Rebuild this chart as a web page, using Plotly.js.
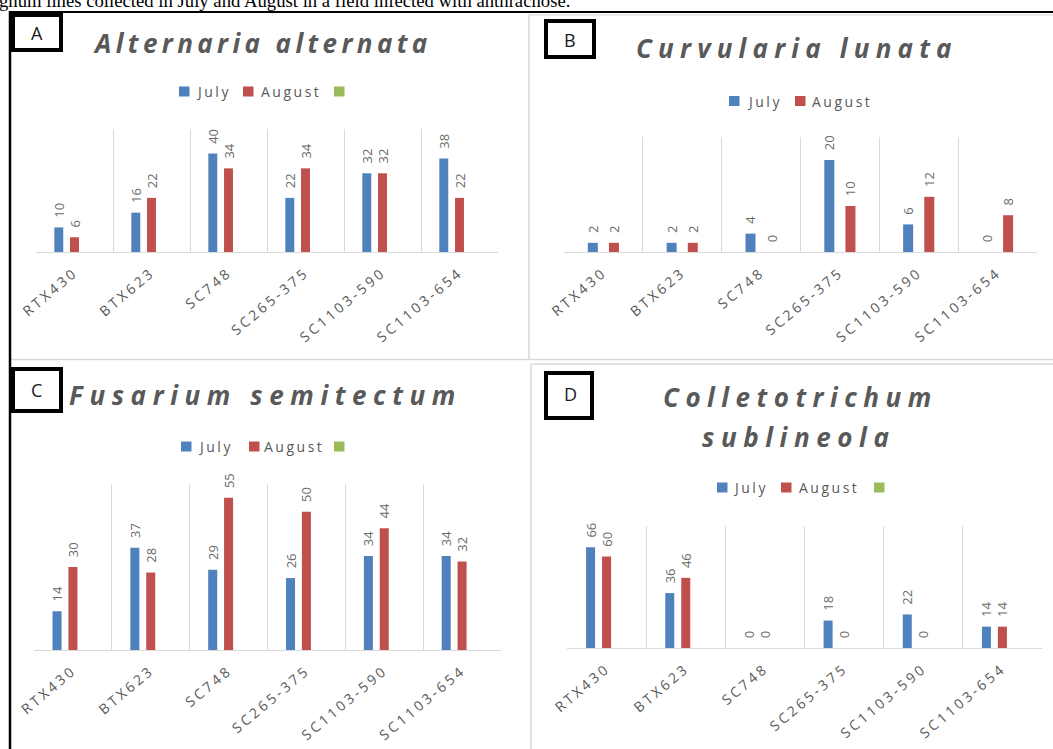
<!DOCTYPE html>
<html><head><meta charset="utf-8">
<script src="https://cdn.plot.ly/plotly-3.0.1.min.js"></script>
<style>
html,body{margin:0;padding:0;background:#fff;}
#chart{width:1053px;height:749px;}
.xtick text,.x2tick text,.x3tick text,.x4tick text{letter-spacing:3px;}
</style></head><body><div id="chart"></div>
<script>
// ---------- data ----------
const categories = ['RTX430','BTX623','SC748','SC265-375','SC1103-590','SC1103-654'];
const seriesNames = ['July','August'];
const alternariaJuly   = [10,16,40,22,32,38];
const alternariaAugust = [6,22,34,34,32,22];
const curvulariaJuly   = [2,2,4,20,6,0];
const curvulariaAugust = [2,2,0,10,12,8];
const fusariumJuly     = [14,37,29,26,34,34];
const fusariumAugust   = [30,28,55,50,44,32];
const colletoJuly      = [66,36,0,18,22,14];
const colletoAugust    = [60,46,0,0,0,14];
const panelTitles = ['Alternaria alternata','Curvularia lunata','Fusarium semitectum','Colletotrichum','sublineola'];
const panelLetters = ['A','B','C','D'];
const captionText = 'ghum lines collected in July and August in a field infected with anthracnose.';

// ---------- helpers ----------
const W = 1053, H = 749;
const X = p => p / W;
const Y = p => 1 - p / H;
const BLUE = '#4F81BD', RED = '#C0504D', GREEN = '#9BBB59', GRAY = '#595959';
const FONT = 'Open Sans, sans-serif';

const panels = [
  {s:'',  july:alternariaJuly, aug:alternariaAugust, xd:[36,498],  yd:[129,252], top:50, w:0.116, oj:-0.262, oa:-0.058,
   legend:{y:91.5, items:[[179,'July',194],[243,'August',259],[334,null]]}},
  {s:'2', july:curvulariaJuly, aug:curvulariaAugust, xd:[564,1037], yd:[137,252], top:25, w:0.127, oj:-0.198, oa:0.070,
   legend:{y:101, items:[[729,'July',745],[795,'August',810]]}},
  {s:'3', july:fusariumJuly, aug:fusariumAugust, xd:[34,501], yd:[484,650], top:60, w:0.116, oj:-0.262, oa:-0.058,
   legend:{y:446.5, items:[[181,'July',196],[249,'August',262],[334,null]]}},
  {s:'4', july:colletoJuly, aug:colletoAugust, xd:[567,1042], yd:[526,648], top:80, w:0.114, oj:-0.259, oa:-0.057,
   legend:{y:487.5, items:[[717,'July',731],[781,'August',797],[874,null]]}}
];

const data = [];
const layout = {
  width: W, height: H, margin:{l:0,r:0,t:0,b:0}, paper_bgcolor:'#fff', plot_bgcolor:'rgba(0,0,0,0)',
  showlegend:false, barmode:'group', font:{family:FONT, color:GRAY},
  shapes:[], annotations:[]
};

panels.forEach((p, i) => {
  [[p.july, BLUE, p.oj, seriesNames[0]], [p.aug, RED, p.oa, seriesNames[1]]].forEach(([vals, col, off, nm]) => {
    data.push({
      type:'bar', name:nm, x:categories, y:vals, xaxis:'x'+p.s, yaxis:'y'+p.s,
      width:p.w, offset:off, marker:{color:col, line:{width:0}},
      texttemplate:'\u00a0\u00a0%{y}', textposition:'outside', textangle:-90,
      constraintext:'none', cliponaxis:false,
      textfont:{family:FONT, size:13, color:'#6a6a6a'}, hoverinfo:'skip'
    });
  });
  layout['xaxis'+p.s] = {
    domain:[X(p.xd[0]), X(p.xd[1])], anchor:'y'+p.s, type:'category', range:[-0.5,5.5],
    tickson:'boundaries', showgrid:true, gridcolor:'#d9d9d9', gridwidth:1,
    showline:true, linecolor:'#d9d9d9', linewidth:1, ticks:'', tickangle:-40, ticklabelstandoff:6,
    tickfont:{family:FONT, size:14, color:GRAY}, automargin:false, fixedrange:true
  };
  layout['yaxis'+p.s] = {
    domain:[Y(p.yd[1]), Y(p.yd[0])], anchor:'x'+p.s, range:[0,p.top],
    showgrid:false, zeroline:false, showticklabels:false, showline:false, ticks:'',
    automargin:false, fixedrange:true
  };
  // legend
  const colors = [BLUE, RED, GREEN];
  p.legend.items.forEach((it, k) => {
    layout.shapes.push({type:'rect', xref:'paper', yref:'paper', x0:X(it[0]), x1:X(it[0]+10.5),
      y0:Y(p.legend.y-5), y1:Y(p.legend.y+5), fillcolor:colors[k], line:{width:0}});
    if (it[1]) layout.annotations.push({xref:'paper', yref:'paper', x:X(it[2]), y:Y(p.legend.y),
      xanchor:'left', yanchor:'middle', showarrow:false,
      text:'<span style="letter-spacing:2.5px">'+it[1]+'</span>', font:{family:FONT, size:14, color:GRAY}});
  });
});

// titles: [text index, center x, center y, letter spacing]
const titleSpecs = [[0,262,43.0,4.4],[1,797,48.0,6.2],[2,265,395.0,6.6],[3,800,397.0,6.5],[4,799,437.0,6.6]];
titleSpecs.forEach(t => {
  layout.annotations.push({xref:'paper', yref:'paper', x:X(t[1]), y:Y(t[2]), xanchor:'center', yanchor:'middle',
    showarrow:false, text:'<b><i><span style="letter-spacing:'+t[3]+'px">'+panelTitles[t[0]]+'</span></i></b>',
    font:{family:FONT, size:26, color:GRAY}});
});

// letter boxes
const boxes = [[13,61,15,50,37,33],[546,594,21,57,570,40],[13,61,369,411,36,390],[546,592,373,418,570,394]];
boxes.forEach((b, i) => {
  layout.shapes.push({type:'rect', xref:'paper', yref:'paper', x0:X(b[0]), x1:X(b[1]), y0:Y(b[3]), y1:Y(b[2]),
    fillcolor:'#fff', line:{color:'#000', width:4}});
  layout.annotations.push({xref:'paper', yref:'paper', x:X(b[4]), y:Y(b[5]), xanchor:'center', yanchor:'middle',
    showarrow:false, text:panelLetters[i], font:{family:FONT, size:18, color:'#1a1a1a'}});
});

// panel frame lines
const line = (x0,y0,x1,y1,color,width) => layout.shapes.push({type:'line', xref:'paper', yref:'paper',
  x0:X(x0), y0:Y(y0), x1:X(x1), y1:Y(y1), line:{color, width}});
line(529,14,529,359,'#d9d9d9',1.5);
line(529,15,1053,15,'#e3e3e3',1.5);
line(10,359.5,1053,359.5,'#d9d9d9',1.5);
line(531,364,1053,364,'#d9d9d9',1.5);
line(531,364,531,749,'#d9d9d9',1.5);
line(10,12,1053,12,'#000',2);
line(10,11,10,749,'#000',2.5);

// caption (cut at the top edge as in the reference)
layout.annotations.push({xref:'paper', yref:'paper', x:X(-3), y:Y(0.8), xanchor:'left', yanchor:'middle',
  showarrow:false, text:captionText, font:{family:'Liberation Serif, Times New Roman, serif', size:18.7, color:'#000'}});

Plotly.newPlot('chart', data, layout, {staticPlot:true, displayModeBar:false});
</script></body></html>
